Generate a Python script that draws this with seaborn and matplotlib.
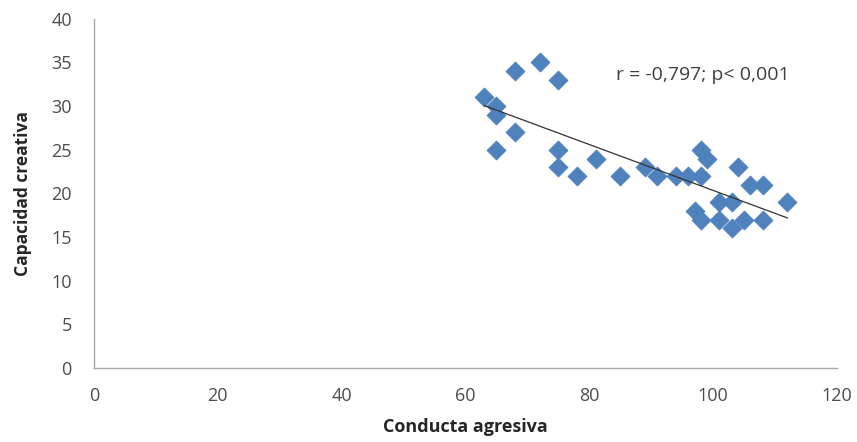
import numpy as np
import pandas as pd
import matplotlib
matplotlib.use("Agg")
import matplotlib.pyplot as plt
import seaborn as sns

conducta = [63, 65, 65, 68, 65, 68, 72, 75, 75, 75, 78, 81, 85, 89, 91, 94,
            96, 98, 98, 99, 104, 106, 108, 112, 101, 103, 97, 98, 101, 103, 105, 108]
capacidad = [31, 30, 29, 27, 25, 34, 35, 33, 25, 23, 22, 24, 22, 23, 22, 22,
             22, 22, 25, 24, 23, 21, 21, 19, 19, 19, 18, 17, 17, 16, 17, 17]
x_ticks = [0, 20, 40, 60, 80, 100, 120]
y_ticks = [0, 5, 10, 15, 20, 25, 30, 35, 40]
annotation = "r = -0,797; p< 0,001"

df = pd.DataFrame({"Conducta agresiva": conducta, "Capacidad creativa": capacidad})

sns.set_style("white")
plt.rcParams['font.family'] = ['Open Sans', 'DejaVu Sans']

fig = plt.figure(figsize=(8.57, 4.42), dpi=100)
ax = fig.add_axes([0.1097, 0.1674, 0.867, 0.79])

sns.scatterplot(data=df, x="Conducta agresiva", y="Capacidad creativa", ax=ax,
                marker="D", s=95, color="#4F81BD", edgecolor="#4F81BD", linewidth=0.5, zorder=3)

coef = np.polyfit(df["Conducta agresiva"], df["Capacidad creativa"], 1)
xl = np.array([min(conducta), max(conducta)])
ax.plot(xl, np.polyval(coef, xl), color="#333333", linewidth=0.9, zorder=4)

ax.set_xlim(0, 120)
ax.set_ylim(0, 40)
ax.set_xticks(x_ticks)
ax.set_yticks(y_ticks)
ax.tick_params(axis='both', labelsize=13, labelcolor="#4D4D4D", color="#A6A6A6",
               length=7, width=1, direction='out')
ax.tick_params(axis='x', pad=7)
ax.tick_params(axis='y', pad=9)
for side in ["top", "right"]:
    ax.spines[side].set_visible(False)
for side in ["left", "bottom"]:
    ax.spines[side].set_color("#A6A6A6")
    ax.spines[side].set_linewidth(1)

ax.set_xlabel("Conducta agresiva", fontsize=13, fontweight="bold", color="#262626", labelpad=9)
ax.set_ylabel("Capacidad creativa", fontsize=12.5, fontweight="bold", color="#262626", labelpad=14)

ax.text(84.3, 33.6, annotation, fontsize=14, color="#404040", va="center", ha="left")

fig.savefig("out.png", dpi=100)
